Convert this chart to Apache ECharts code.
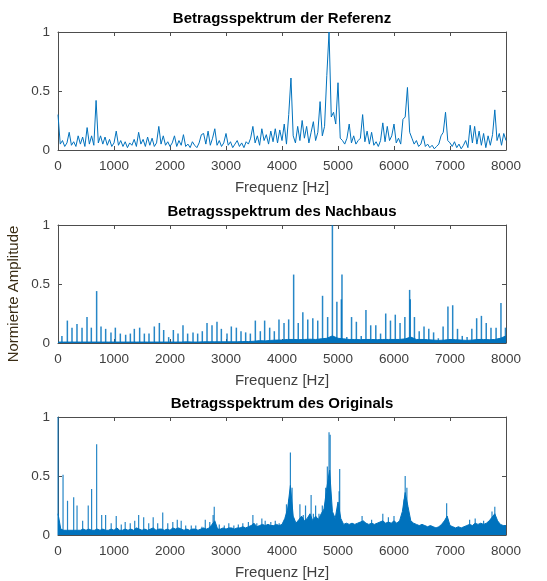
<!DOCTYPE html>
<html>
<head>
<meta charset="utf-8">
<script src="https://cdn.jsdelivr.net/npm/echarts@6/dist/echarts.min.js"></script>
<style>
html, body { margin: 0; padding: 0; background: #fff; }
#chart { width: 547px; height: 581px; }
</style>
</head>
<body>
<div id="chart"></div>
<script>
// Titel der drei Teilplots
const plotTitles = [
    "Betragsspektrum der Referenz",
    "Betragsspektrum des Nachbaus",
    "Betragsspektrum des Originals"
]

// Referenz: Betrag alle 40 Hz (0 .. 8000 Hz)
const refStep = 40
const refAmp = [
    0.30, 0.05, 0.08, 0.03, 0.06, 0.15, 0.04, 0.07, 0.03, 0.12,
    0.05, 0.11, 0.03, 0.19, 0.05, 0.12, 0.04, 0.42, 0.06, 0.12,
    0.05, 0.11, 0.04, 0.09, 0.03, 0.06, 0.16, 0.04, 0.08, 0.03,
    0.07, 0.02, 0.06, 0.04, 0.09, 0.03, 0.15, 0.05, 0.09, 0.03,
    0.11, 0.04, 0.10, 0.03, 0.06, 0.20, 0.05, 0.12, 0.04, 0.07,
    0.03, 0.06, 0.12, 0.03, 0.08, 0.04, 0.13, 0.03, 0.05, 0.02,
    0.07, 0.04, 0.02, 0.06, 0.13, 0.14, 0.05, 0.16, 0.04, 0.10,
    0.18, 0.04, 0.08, 0.03, 0.06, 0.14, 0.04, 0.07, 0.02, 0.05,
    0.08, 0.03, 0.06, 0.02, 0.07, 0.05, 0.10, 0.20, 0.06, 0.12,
    0.04, 0.18, 0.08, 0.13, 0.05, 0.16, 0.07, 0.18, 0.06, 0.17,
    0.08, 0.22, 0.05, 0.30, 0.61, 0.12, 0.06, 0.20, 0.08, 0.25,
    0.10, 0.20, 0.06, 0.15, 0.24, 0.08, 0.15, 0.41, 0.12, 0.20,
    0.63, 1.00, 0.28, 0.32, 0.22, 0.57, 0.10, 0.08, 0.05, 0.10,
    0.22, 0.06, 0.12, 0.05, 0.08, 0.10, 0.30, 0.07, 0.16, 0.05,
    0.15, 0.04, 0.07, 0.03, 0.08, 0.23, 0.07, 0.20, 0.08, 0.12,
    0.22, 0.06, 0.10, 0.05, 0.26, 0.28, 0.53, 0.15, 0.10, 0.05,
    0.08, 0.03, 0.05, 0.12, 0.03, 0.05, 0.02, 0.04, 0.01, 0.03,
    0.05, 0.12, 0.15, 0.32, 0.08, 0.06, 0.03, 0.07, 0.02, 0.05,
    0.01, 0.04, 0.08, 0.02, 0.21, 0.06, 0.20, 0.05, 0.16, 0.04,
    0.14, 0.02, 0.12, 0.04, 0.13, 0.34, 0.08, 0.14, 0.04, 0.14,
    0.08
]

// Nachbau: Grundrauschen alle 100 Hz
const nachFloorStep = 100
const nachFloor = [
    0.008, 0.008, 0.008, 0.008, 0.008, 0.008, 0.008, 0.008, 0.008, 0.008,
    0.008, 0.008, 0.008, 0.008, 0.008, 0.008, 0.008, 0.008, 0.008, 0.008,
    0.008, 0.008, 0.008, 0.010, 0.008, 0.008, 0.010, 0.010, 0.010, 0.010,
    0.010, 0.010, 0.010, 0.012, 0.012, 0.015, 0.020, 0.018, 0.022, 0.025,
    0.025, 0.030, 0.030, 0.028, 0.030, 0.032, 0.030, 0.035, 0.040, 0.060,
    0.040, 0.035, 0.030, 0.030, 0.028, 0.030, 0.030, 0.028, 0.030, 0.030,
    0.030, 0.030, 0.035, 0.050, 0.030, 0.030, 0.028, 0.025, 0.022, 0.025,
    0.030, 0.028, 0.025, 0.022, 0.025, 0.030, 0.030, 0.028, 0.030, 0.040,
    0.060
]

// Nachbau: Harmonische (Frequenz in Hz, Betrag)
const nachPeakFreq = [
    70, 167, 250, 339, 429, 518, 595, 690, 768, 851,
    946, 1024, 1113, 1208, 1292, 1363, 1458, 1542, 1625, 1720,
    1810, 1887, 1976, 2060, 2143, 2232, 2315, 2411, 2494, 2577,
    2661, 2750, 2839, 2917, 3018, 3095, 3185, 3268, 3351, 3435,
    3524, 3613, 3690, 3780, 3863, 3946, 4036, 4119, 4208, 4290,
    4372, 4460, 4550, 4638, 4724, 4815, 4900, 4980, 5060, 5071,
    5157, 5242, 5328, 5415, 5499, 5584, 5675, 5760, 5852, 5937,
    6023, 6108, 6194, 6279, 6290, 6365, 6450, 6536, 6621, 6707,
    6792, 6877, 6963, 7048, 7134, 7219, 7305, 7390, 7476, 7561,
    7647, 7732, 7823, 7910, 7990
]
const nachPeakAmp = [
    0.06, 0.19, 0.13, 0.16, 0.13, 0.22, 0.13, 0.44, 0.14, 0.12,
    0.09, 0.13, 0.08, 0.07, 0.08, 0.12, 0.13, 0.08, 0.08, 0.14,
    0.17, 0.11, 0.05, 0.11, 0.08, 0.15, 0.08, 0.09, 0.08, 0.10,
    0.17, 0.15, 0.18, 0.12, 0.08, 0.14, 0.13, 0.10, 0.09, 0.08,
    0.19, 0.10, 0.19, 0.13, 0.10, 0.20, 0.17, 0.20, 0.58, 0.17,
    0.26, 0.20, 0.21, 0.19, 0.40, 0.22, 1.00, 0.35, 0.37, 0.58,
    0.05, 0.22, 0.18, 0.06, 0.28, 0.15, 0.15, 0.08, 0.25, 0.19,
    0.24, 0.17, 0.22, 0.45, 0.37, 0.22, 0.10, 0.14, 0.12, 0.09,
    0.04, 0.14, 0.31, 0.32, 0.12, 0.06, 0.05, 0.12, 0.21, 0.23,
    0.17, 0.13, 0.13, 0.34, 0.13
]

// Original: dichter Spektrumskoerper alle 50 Hz
const origStep = 50
const origBody = [
    0.18, 0.05, 0.04, 0.04, 0.04, 0.04, 0.04, 0.04, 0.04, 0.05,
    0.04, 0.05, 0.04, 0.04, 0.05, 0.04, 0.05, 0.04, 0.04, 0.05,
    0.04, 0.06, 0.04, 0.04, 0.05, 0.04, 0.05, 0.04, 0.06, 0.05,
    0.04, 0.05, 0.04, 0.05, 0.06, 0.04, 0.05, 0.05, 0.04, 0.05,
    0.04, 0.06, 0.05, 0.06, 0.05, 0.04, 0.05, 0.04, 0.05, 0.05,
    0.04, 0.05, 0.06, 0.05, 0.06, 0.09, 0.12, 0.05, 0.05, 0.06,
    0.05, 0.06, 0.06, 0.05, 0.06, 0.06, 0.07, 0.06, 0.07, 0.08,
    0.10, 0.07, 0.08, 0.09, 0.08, 0.09, 0.08, 0.08, 0.09, 0.08,
    0.09, 0.14, 0.22, 0.42, 0.16, 0.10, 0.13, 0.16, 0.12, 0.14,
    0.18, 0.12, 0.16, 0.13, 0.18, 0.22, 0.40, 0.55, 0.20, 0.14,
    0.28, 0.14, 0.09, 0.10, 0.09, 0.10, 0.09, 0.10, 0.11, 0.12,
    0.10, 0.09, 0.10, 0.09, 0.10, 0.11, 0.12, 0.10, 0.11, 0.10,
    0.12, 0.10, 0.12, 0.20, 0.36, 0.24, 0.12, 0.10, 0.09, 0.08,
    0.09, 0.08, 0.07, 0.08, 0.07, 0.06, 0.07, 0.09, 0.12, 0.16,
    0.08, 0.07, 0.06, 0.07, 0.06, 0.07, 0.08, 0.09, 0.08, 0.10,
    0.09, 0.10, 0.09, 0.10, 0.12, 0.15, 0.18, 0.12, 0.09, 0.08,
    0.08
]

// Original: schmale Spitzen (Frequenz in Hz, Betrag)
const origPeakFreq = [
    0, 90, 170, 280, 340, 440, 540, 600, 690, 780,
    850, 950, 1040, 1130, 1200, 1290, 1370, 1440, 1530, 1620,
    1700, 1780, 1870, 1960, 2050, 2130, 2200, 2280, 2380, 2460,
    2570, 2630, 2710, 2770, 2790, 2880, 2970, 3050, 3140, 3220,
    3300, 3400, 3480, 3550, 3640, 3700, 3800, 3880, 3950, 4080,
    4120, 4150, 4180, 4320, 4380, 4420, 4480, 4520, 4560, 4600,
    4660, 4720, 4780, 4810, 4840, 4860, 5000, 5020, 5030, 5430,
    5600, 5800, 5900, 6000, 6180, 6200, 6230, 6940, 7350, 7450,
    7600, 7750, 7800
]
const origPeakAmp = [
    1.00, 0.51, 0.29, 0.32, 0.25, 0.12, 0.25, 0.39, 0.77, 0.17,
    0.17, 0.10, 0.16, 0.09, 0.11, 0.10, 0.12, 0.17, 0.15, 0.10,
    0.15, 0.10, 0.19, 0.10, 0.11, 0.13, 0.12, 0.08, 0.08, 0.08,
    0.07, 0.13, 0.11, 0.17, 0.24, 0.09, 0.08, 0.10, 0.08, 0.09,
    0.10, 0.11, 0.17, 0.10, 0.14, 0.12, 0.11, 0.12, 0.10, 0.26,
    0.30, 0.70, 0.40, 0.26, 0.17, 0.25, 0.15, 0.34, 0.18, 0.25,
    0.18, 0.25, 0.40, 0.58, 0.87, 0.85, 0.25, 0.37, 0.56, 0.16,
    0.13, 0.18, 0.15, 0.16, 0.30, 0.50, 0.40, 0.27, 0.13, 0.14,
    0.12, 0.20, 0.24
]

const freqMax = 8000
const freqInterval = 1000
const ampMax = 1
const ampInterval = 0.5

const blue = "#0072BD"
const axisColor = "#4d4d4d"
const textColor = "#404040"
const fontFamily = "'Liberation Sans', Arial, Helvetica, sans-serif"

const gridTops = [32, 225, 417]

const chart = echarts.init(document.getElementById("chart"), null, {renderer: "canvas"})

const grids = []
const xAxes = []
const yAxes = []
const titles = []

gridTops.forEach((top, g) => {
    grids.push({left: 58, top: top, width: 448, height: 118, containLabel: false})
    titles.push({
        text: plotTitles[g],
        left: 282,
        top: top - 21,
        textAlign: "center",
        padding: 0,
        textStyle: {fontFamily, fontSize: 15, fontWeight: "bold", color: "#000"}
    })
    // unten
    xAxes.push({
        gridIndex: g, type: "value", position: "bottom",
        min: 0, max: freqMax, interval: freqInterval,
        name: "Frequenz [Hz]", nameLocation: "middle", nameGap: 30,
        nameTextStyle: {fontFamily, fontSize: 15, color: textColor},
        axisLine: {show: true, onZero: false, lineStyle: {color: axisColor, width: 1}},
        axisTick: {show: true, inside: true, length: 4, lineStyle: {color: axisColor}},
        axisLabel: {
            show: true, margin: 9, fontFamily, fontSize: 13.5, color: textColor,
            formatter: v => String(v)
        },
        splitLine: {show: false}
    })
    // oben
    xAxes.push({
        gridIndex: g, type: "value", position: "top",
        min: 0, max: freqMax, interval: freqInterval,
        axisLine: {show: true, onZero: false, lineStyle: {color: axisColor, width: 1}},
        axisTick: {show: true, inside: true, length: 4, lineStyle: {color: axisColor}},
        axisLabel: {show: false},
        splitLine: {show: false}
    })
    // links
    yAxes.push({
        gridIndex: g, type: "value", position: "left",
        min: 0, max: ampMax, interval: ampInterval,
        axisLine: {show: true, onZero: false, lineStyle: {color: axisColor, width: 1}},
        axisTick: {show: true, inside: true, length: 4, lineStyle: {color: axisColor}},
        axisLabel: {
            show: true, margin: 8, fontFamily, fontSize: 13.5, color: textColor,
            formatter: v => String(v)
        },
        splitLine: {show: false}
    })
    // rechts
    yAxes.push({
        gridIndex: g, type: "value", position: "right",
        min: 0, max: ampMax, interval: ampInterval,
        axisLine: {show: true, onZero: false, lineStyle: {color: axisColor, width: 1}},
        axisTick: {show: true, inside: true, length: 4, lineStyle: {color: axisColor}},
        axisLabel: {show: false},
        splitLine: {show: false}
    })
})

const refData = refAmp.map((a, i) => [i * refStep, a])
const nachFloorData = nachFloor.map((a, i) => [i * nachFloorStep, a])
const nachPeakData = nachPeakFreq.map((f, i) => [f, nachPeakAmp[i]])
const origBodyData = origBody.map((a, i) => [i * origStep, a])
const origPeakData = origPeakFreq.map((f, i) => [f, origPeakAmp[i]])

const option = {
    animation: false,
    backgroundColor: "#fff",
    title: titles,
    grid: grids,
    xAxis: xAxes,
    yAxis: yAxes,
    graphic: [{
        type: "text",
        x: 14,
        y: 294,
        rotation: Math.PI / 2,
        style: {
            text: "Normierte Amplitude",
            fontFamily, fontSize: 15, fill: "#3a2c14",
            textAlign: "center", textVerticalAlign: "middle"
        }
    }],
    series: [
        {
            type: "line", xAxisIndex: 0, yAxisIndex: 0,
            data: refData, symbol: "none", clip: true,
            lineStyle: {color: blue, width: 1}
        },
        {
            type: "line", xAxisIndex: 2, yAxisIndex: 2,
            data: nachFloorData, symbol: "none", clip: true,
            lineStyle: {color: blue, width: 1},
            areaStyle: {color: blue, opacity: 1}
        },
        {
            type: "bar", xAxisIndex: 2, yAxisIndex: 2,
            data: nachPeakData, barWidth: 1.5,
            itemStyle: {color: blue, opacity: 0.85}
        },
        {
            type: "line", xAxisIndex: 4, yAxisIndex: 4,
            data: origBodyData, symbol: "none", clip: true,
            lineStyle: {color: blue, width: 1},
            areaStyle: {color: blue, opacity: 1}
        },
        {
            type: "bar", xAxisIndex: 4, yAxisIndex: 4,
            data: origPeakData, barWidth: 1.2,
            itemStyle: {color: blue, opacity: 0.85}
        }
    ]
}

chart.setOption(option)
</script>
</body>
</html>
